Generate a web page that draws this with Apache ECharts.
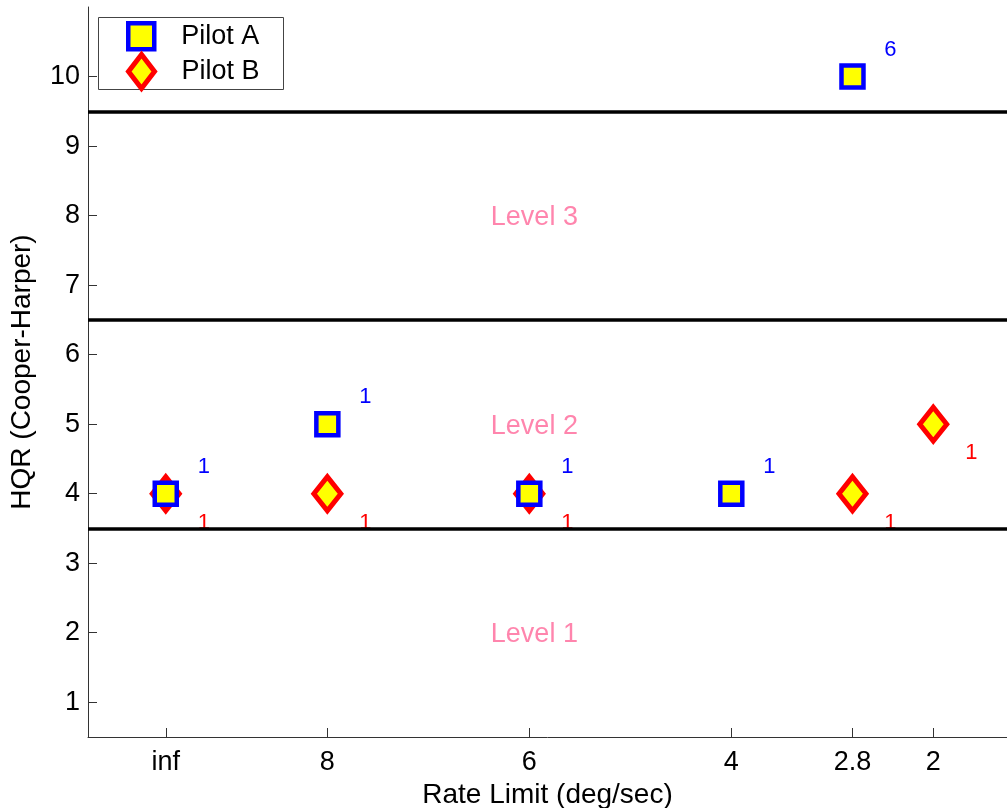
<!DOCTYPE html>
<html>
<head>
<meta charset="utf-8">
<script src="https://cdn.jsdelivr.net/npm/echarts@6/dist/echarts.min.js"></script>
<style>html,body{margin:0;padding:0;background:#fff}#c{width:1007px;height:808px}</style>
</head>
<body>
<div id="c"></div>
<script>
// ---- data ----
const xTickValues = [9.6, 8, 6, 4, 2.8, 2];
const xTickLabels = ['inf', '8', '6', '4', '2.8', '2'];
const yTickValues = [1, 2, 3, 4, 5, 6, 7, 8, 9, 10];
const pilotAX = [9.6, 8, 6, 4, 2.8];
const pilotAY = [4, 5, 4, 4, 10];
const pilotACount = [1, 1, 1, 1, 6];
const pilotBX = [9.6, 8, 6, 2.8, 2];
const pilotBY = [4, 4, 4, 4, 5];
const pilotBCount = [1, 1, 1, 1, 1];
const levelBounds = [3.5, 6.5, 9.5];
const levelNames = ['Level 1', 'Level 2', 'Level 3'];
const levelX = [5.95, 5.95, 5.95];
const levelY = [2, 5, 8];

const FONT = '"Liberation Sans", Arial, Helvetica, sans-serif';
const diamondPath = 'path://M13,0L26,17L13,34L0,17Z';
const squarePath = 'path://M0,0L22,0L22,22L0,22Z';

const chart = echarts.init(document.getElementById('c'), null, {renderer: 'canvas'});

const aData = pilotAX.map((x, i) => ({value: [x, pilotAY[i]], count: pilotACount[i]}));
const bData = pilotBX.map((x, i) => ({value: [x, pilotBY[i]], count: pilotBCount[i]}));
const lvlData = levelNames.map((n, i) => ({value: [levelX[i], levelY[i]], name: n}));

const option = {
  animation: false,
  backgroundColor: '#ffffff',
  textStyle: {fontFamily: FONT},
  grid: {left: 88, right: 0, top: 7, height: 730, containLabel: false, outerBoundsMode: 'none'},
  graphic: [{
    type: 'rect', left: 98, top: 17, z: 50,
    shape: {width: 185, height: 72},
    style: {fill: '#ffffff', stroke: '#444444', lineWidth: 1}
  }],
  legend: [{
    data: [{name: 'Pilot A', icon: squarePath}], orient: 'vertical', left: 126, top: 21, padding: 0, z: 60,
    itemWidth: 26, itemHeight: 26,
    itemStyle: {borderWidth: 4.5},
    textStyle: {fontSize: 27, color: '#000', fontFamily: FONT, padding: [0, 0, 0, 22]}
  }, {
    data: [{name: 'Pilot B', icon: diamondPath}], orient: 'vertical', left: 126, top: 52, padding: 0, z: 60,
    itemWidth: 26, itemHeight: 34,
    itemStyle: {borderWidth: 5},
    textStyle: {fontSize: 27, color: '#000', fontFamily: FONT, padding: [0, 0, 0, 22]}
  }],
  xAxis: {
    type: 'value', inverse: true, min: 1.27, max: 10.37,
    name: 'Rate Limit (deg/sec)', nameLocation: 'middle', nameGap: 34,
    nameTextStyle: {fontSize: 28, color: '#000', fontFamily: FONT},
    axisLine: {show: true, lineStyle: {color: '#333', width: 1}},
    axisTick: {show: true, inside: true, length: 9, customValues: xTickValues, lineStyle: {color: '#333'}},
    axisLabel: {
      show: true, margin: 12, fontSize: 27, color: '#000', fontFamily: FONT,
      customValues: xTickValues,
      formatter: v => { const i = xTickValues.findIndex(t => Math.abs(t - v) < 1e-6); return i >= 0 ? xTickLabels[i] : ''; }
    },
    splitLine: {show: false}
  },
  yAxis: {
    type: 'value', min: 0.5, max: 11,
    name: 'HQR (Cooper-Harper)', nameLocation: 'middle', nameGap: 52, nameRotate: 90,
    nameTextStyle: {fontSize: 28, color: '#000', fontFamily: FONT},
    axisLine: {show: true, lineStyle: {color: '#333', width: 1}},
    axisTick: {show: true, inside: true, length: 9, customValues: yTickValues, lineStyle: {color: '#333'}},
    axisLabel: {show: true, margin: 8, fontSize: 27, color: '#000', fontFamily: FONT, customValues: yTickValues},
    splitLine: {show: false}
  },
  series: [{
    name: 'bounds', type: 'scatter', data: [], silent: true,
    markLine: {
      silent: true, symbol: ['none', 'none'], label: {show: false},
      lineStyle: {color: '#000', width: 3.5, type: 'solid'},
      emphasis: {disabled: true},
      data: levelBounds.map(v => ({yAxis: v}))
    }
  }, {
    name: 'levels', type: 'scatter', data: lvlData, symbolSize: 0, silent: true,
    label: {show: true, position: 'inside', offset: [0, 2], formatter: p => p.name, fontSize: 27, color: '#ff6699', fontFamily: FONT}
  }, {
    name: 'Pilot B', type: 'scatter', data: bData, z: 3,
    symbol: diamondPath, symbolSize: [27, 34],
    itemStyle: {color: '#ffff00', borderColor: '#ff0000', borderWidth: 5, opacity: 1},
    label: {show: true, position: 'inside', offset: [38, 29], formatter: p => String(p.data.count), fontSize: 22, color: '#ff0000', fontFamily: FONT}
  }, {
    name: 'Pilot A', type: 'scatter', data: aData, z: 4,
    symbol: 'rect', symbolSize: 22,
    itemStyle: {color: '#ffff00', borderColor: '#0000ff', borderWidth: 4.5, opacity: 1},
    label: {show: true, position: 'inside', offset: [38, -27], formatter: p => String(p.data.count), fontSize: 22, color: '#0000ff', fontFamily: FONT}
  }]
};
chart.setOption(option);
</script>
</body>
</html>
